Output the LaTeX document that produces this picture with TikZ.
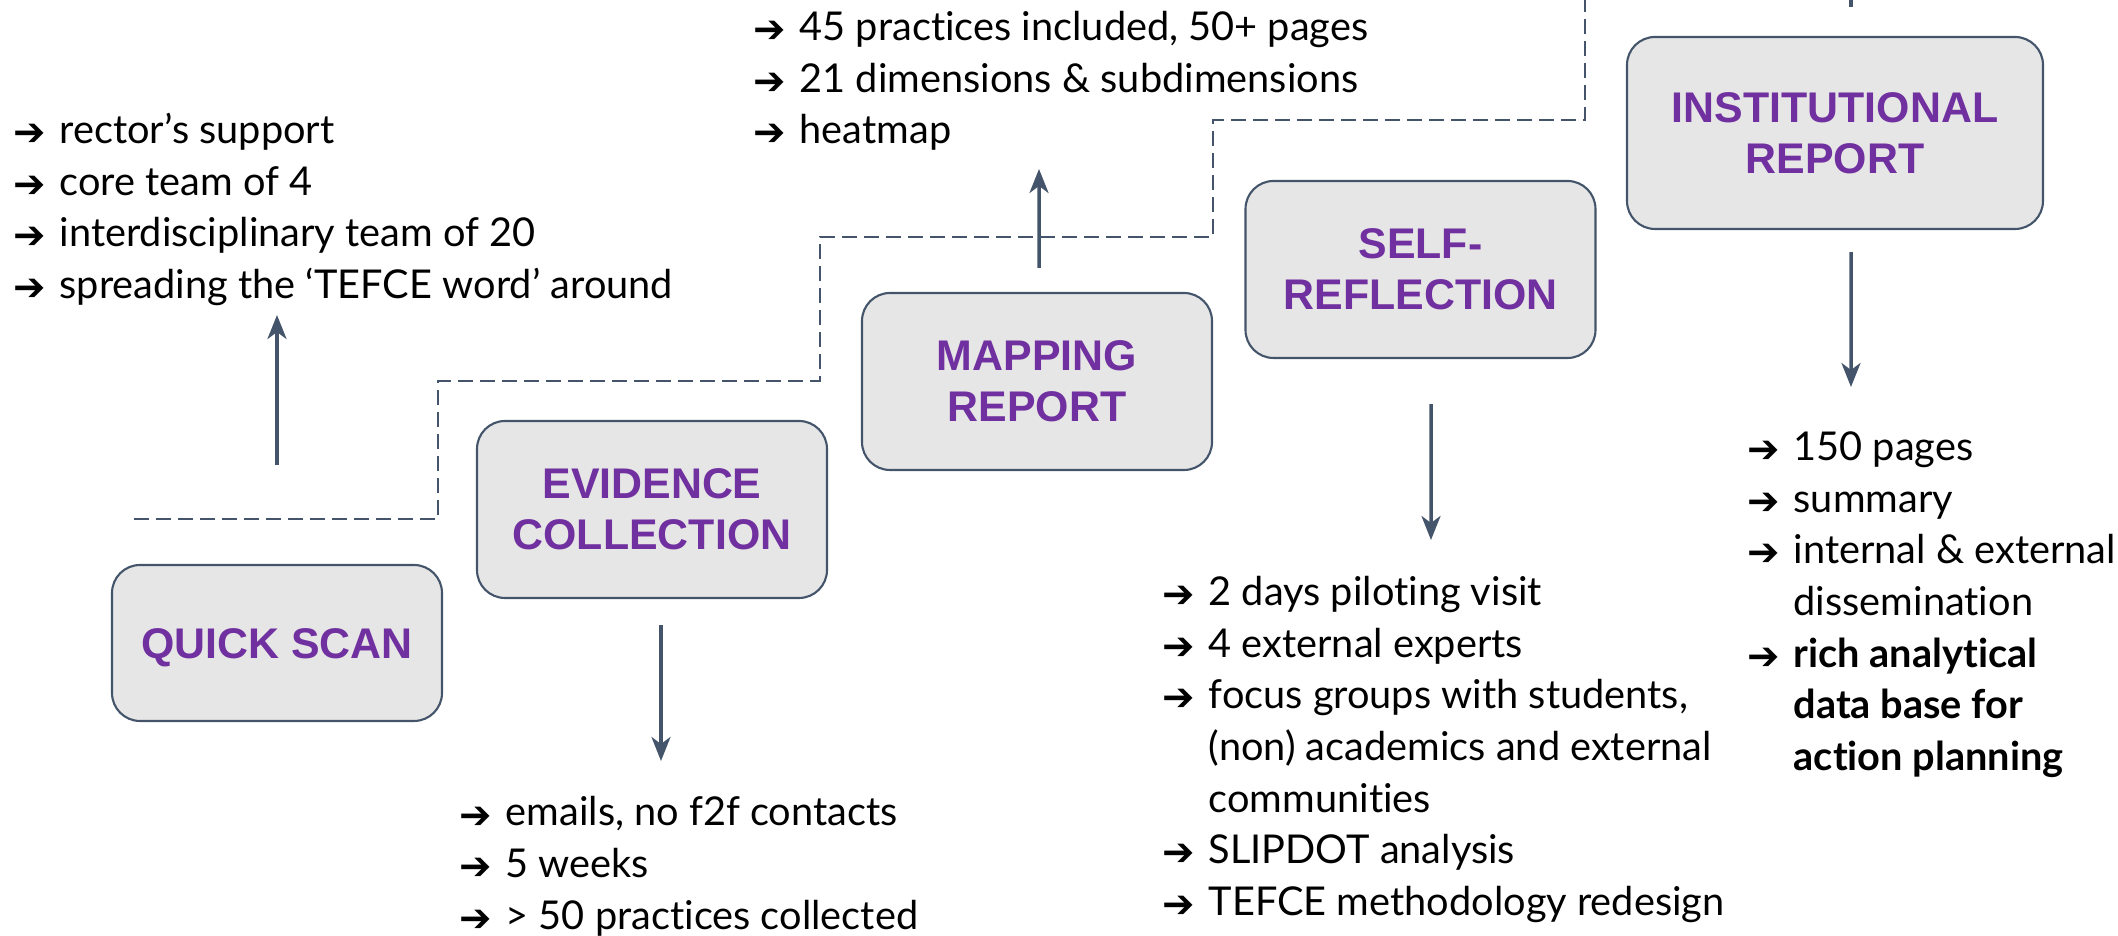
\documentclass[tikz,border=0pt]{standalone}
\usepackage{fontspec}
\setmainfont{Lato}[Ligatures=NoCommon]
\newfontfamily\titlefont{Liberation Sans}
\newfontfamily\arrowfont{DejaVu Sans}
\usepackage{xcolor}
\usetikzlibrary{arrows.meta,positioning,calc}

\definecolor{slate}{HTML}{44546A}
\definecolor{stagepurple}{HTML}{7030A0}
\definecolor{stagegray}{HTML}{E6E6E6}

% arrow bullet in front of each item
\newcommand{\bul}{\makebox[0.46cm][l]{\raisebox{-0.6pt}{\arrowfont\fontsize{11}{11}\selectfont ➔}}}

\begin{document}
\begin{tikzpicture}[
    stage/.style={draw=slate, line width=0.6pt, fill=stagegray, rounded corners=0.28cm,
        minimum width=3.5cm, minimum height=1.77cm, align=center, text=stagepurple,
        font=\titlefont\bfseries\fontsize{12.2}{14.5}\selectfont},
    items/.style={anchor=base west, inner sep=0pt, font=\fontsize{11.3}{14.7}\selectfont},
    flow/.style={draw=slate, line width=1pt, -{Stealth[length=2.4mm,width=1.9mm,inset=0.7mm]}},
    stair/.style={draw=slate, line width=0.45pt, dash pattern=on 1.5mm off 0.7mm}
]
    \useasboundingbox (0,0) rectangle (21.18,9.36);

    % stages
    \node[stage, minimum width=3.3cm, minimum height=1.56cm] (quick) at (2.77,2.93) {\raisebox{-0.5mm}[\height][\depth]{QUICK SCAN}};
    \node[stage] (evid) at (6.52,4.265) {EVIDENCE\\COLLECTION};
    \node[stage] (mapr) at (10.37,5.545) {MAPPING\\REPORT};
    \node[stage] (selfr) at (14.205,6.665) {SELF-\\REFLECTION};
    \node[stage, minimum width=4.16cm, minimum height=1.92cm] (instr) at (18.35,8.03) {INSTITUTIONAL\\REPORT};

    % staircase
    \draw[stair] (1.34,4.17) -| (4.38,5.55) -| (8.20,6.99) -| (12.13,8.16) -| (15.85,9.36);

    % outcomes
    \node[items] (quickout) at (0.13,7.925) {\begin{tabular}[t]{@{}l@{}l@{}}
        \bul & rector’s support\\
        \bul & core team of 4\\
        \bul & interdisciplinary team of 20\\
        \bul & spreading the ‘TEFCE word’ around
    \end{tabular}};
    \node[items] (mapout) at (7.53,8.955) {\begin{tabular}[t]{@{}l@{}l@{}}
        \bul & 45 practices included, 50+ pages\\
        \bul & 21 dimensions \& subdimensions\\
        \bul & heatmap
    \end{tabular}};
    \node[items] (evidout) at (4.59,1.1) {\begin{tabular}[t]{@{}l@{}l@{}}
        \bul & emails, no f2f contacts\\
        \bul & 5 weeks\\
        \bul & > 50 practices collected\\[-4.3pt]
    \end{tabular}};
    \node[items] (selfout) at (11.62,3.305) {\begin{tabular}[t]{@{}l@{}l@{}}
        \bul & 2 days piloting visit\\
        \bul & 4 external experts\\
        \bul & focus groups with students,\\
             & (non) academics and external\\
             & communities\\
        \bul & SLIPDOT analysis\\
        \bul & TEFCE methodology redesign
    \end{tabular}};
    \node[items] (instout) at (17.47,4.755) {\begin{tabular}[t]{@{}l@{}l@{}}
        \bul & 150 pages\\
        \bul & summary\\
        \bul & internal \& external\\
             & dissemination\\
        \bul & \textbf{rich analytical}\\
             & \textbf{data base for}\\
             & \textbf{action planning}
    \end{tabular}};

    % arrows
    \coordinate (quicktip) at (2.77,6.21);
    \coordinate (evidtip) at (6.61,1.75);
    \coordinate (maptip) at (10.39,7.67);
    \coordinate (selftip) at (14.31,3.96);
    \coordinate (insttip) at (18.51,5.49);
    \coordinate (stub) at (18.51,9.36);
    \draw[flow] ([yshift=9.9mm]quick.north) -- (quicktip);
    \draw[flow] ([xshift=0.9mm,yshift=-2.6mm]evid.south) -- (evidtip);
    \draw[flow] ([xshift=0.2mm,yshift=2.4mm]mapr.north) -- (maptip);
    \draw[flow] ([xshift=1.05mm,yshift=-4.5mm]selfr.south) -- (selftip);
    \draw[flow] ([xshift=1.6mm,yshift=-2.2mm]instr.south) -- (insttip);
    \draw[slate, line width=1pt] (stub) -- ++(0,-0.07);
\end{tikzpicture}
\end{document}
